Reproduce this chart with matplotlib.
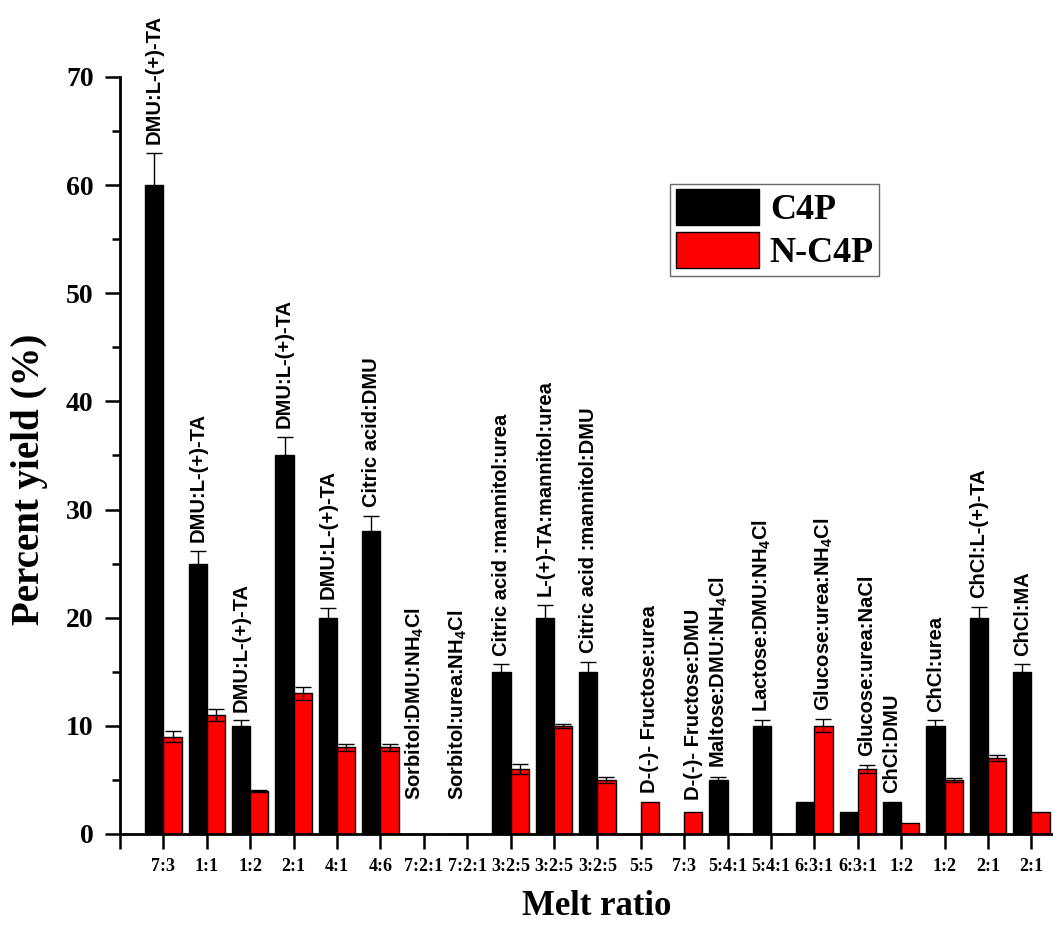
import matplotlib
matplotlib.use("Agg")
from matplotlib import pyplot as plt
import numpy as np

# ratios on the x axis and the mixture names written above the bars
ratios = ['7:3', '1:1', '1:2', '2:1', '4:1', '4:6', '7:2:1', '7:2:1', '3:2:5', '3:2:5',
          '3:2:5', '5:5', '7:3', '5:4:1', '5:4:1', '6:3:1', '6:3:1', '1:2', '1:2', '2:1', '2:1']
mezclas = ['DMU:L-(+)-TA', 'DMU:L-(+)-TA', 'DMU:L-(+)-TA', 'DMU:L-(+)-TA', 'DMU:L-(+)-TA',
           'Citric acid:DMU', r'Sorbitol:DMU:NH$_4$Cl', r'Sorbitol:urea:NH$_4$Cl',
           'Citric acid :mannitol:urea', 'L-(+)-TA:mannitol:urea', 'Citric acid :mannitol:DMU',
           'D-(-)- Fructose:urea', 'D-(-)- Fructose:DMU', r'Maltose:DMU:NH$_4$Cl',
           r'Lactose:DMU:NH$_4$Cl', r'Glucose:urea:NH$_4$Cl', 'Glucose:urea:NaCl',
           'ChCl:DMU', 'ChCl:urea', 'ChCl:L-(+)-TA', 'ChCl:MA']

c4p = [60, 25, 10, 35, 20, 28, 0, 0, 15, 20, 15, 0, 0, 5, 10, 3, 2, 3, 10, 20, 15]
c4p_err = [3, 1.2, 0.5, 1.7, 0.9, 1.4, 0, 0, 0.7, 1.2, 0.9, 0, 0, 0.3, 0.5, 0, 0, 0, 0.5, 1.0, 0.7]
nc4p = [9, 11, 4, 13, 8, 8, 0, 0, 6, 10, 5, 3, 2, 0, 0, 10, 6, 1, 5, 7, 2]
nc4p_err = [0.5, 0.6, 0.1, 0.6, 0.35, 0.3, 0, 0, 0.5, 0.2, 0.3, 0, 0, 0, 0, 0.6, 0.4, 0, 0.2, 0.3, 0]

serif = ['Liberation Serif', 'DejaVu Serif']
sans = ['Liberation Sans', 'DejaVu Sans']
plt.rcParams['mathtext.fontset'] = 'custom'
plt.rcParams['mathtext.rm'] = 'Liberation Sans:bold'

fig = plt.figure(figsize=(10.53, 9.26), dpi=100)
ax = fig.add_axes([0.114, 0.0994, 0.886, 0.8175])

x = np.arange(1, len(ratios) + 1)
w = 0.42

ax.bar(x - w / 2, c4p, w, color='black', edgecolor='black', linewidth=1, label='C4P', zorder=2)
ax.bar(x + w / 2, nc4p, w, color='#ff0000', edgecolor='black', linewidth=1, label='N-C4P', zorder=2)

# barras de error (solo donde hay error)
c4p_err_arr = np.array(c4p_err)
nc4p_err_arr = np.array(nc4p_err)
m1 = c4p_err_arr > 0
m2 = nc4p_err_arr > 0
ax.errorbar(x[m1] - w / 2, np.array(c4p)[m1], yerr=c4p_err_arr[m1], fmt='none',
            ecolor='black', elinewidth=1, capsize=6, capthick=1, zorder=3)
ax.errorbar(x[m2] + w / 2, np.array(nc4p)[m2], yerr=nc4p_err_arr[m2], fmt='none',
            ecolor='black', elinewidth=1, capsize=6, capthick=1, zorder=3)

# nombres de las mezclas encima de la barra mas alta
for i in range(len(x)):
    top1 = c4p[i] + c4p_err[i]
    top2 = nc4p[i] + nc4p_err[i]
    if top2 > top1:
        xt = x[i] + w / 2
        base = top2
    else:
        xt = x[i] - w / 2
        base = top1
    base = max(base, 2.3)
    ax.text(xt, base + 0.8, mezclas[i], rotation=90, ha='center', va='bottom',
            family=sans, fontweight='bold', fontsize=14.5, clip_on=False)

ax.set_xlim(0, 21.5)
ax.set_ylim(0, 70)
ax.set_xticks(np.concatenate([[0], x]))
ax.set_xticklabels([''] + ratios, family=serif, fontweight='bold', fontsize=13)
ax.set_yticks(range(0, 71, 10))
ax.set_yticks(range(5, 70, 10), minor=True)
ax.set_yticklabels([str(v) for v in range(0, 71, 10)], family=serif, fontweight='bold', fontsize=20)

ax.tick_params(axis='x', direction='out', length=11, width=1.8, pad=6)
ax.tick_params(axis='y', which='major', direction='out', length=11, width=1.8, pad=8)
ax.tick_params(axis='y', which='minor', direction='out', length=6, width=1.8)

for s in ['top', 'right']:
    ax.spines[s].set_visible(False)
for s in ['left', 'bottom']:
    ax.spines[s].set_linewidth(2)

ax.set_xlabel('Melt ratio', family=serif, fontweight='bold', fontsize=25)
ax.xaxis.set_label_coords(0.511, -0.074)
ax.set_ylabel('Percent yield (%)', family=serif, fontweight='bold', fontsize=28)
ax.yaxis.set_label_coords(-0.077, 0.469)

leg = ax.legend(loc='upper left', bbox_to_anchor=(0.59, 0.859), prop={'family': serif, 'weight': 'bold', 'size': 26},
                frameon=True, fancybox=False, edgecolor='#444444', handlelength=2.3, handleheight=1.15,
                handletextpad=0.3, borderpad=0.15, labelspacing=0.14, borderaxespad=0)
leg.get_frame().set_linewidth(1)

fig.savefig('out.png', dpi=100)
